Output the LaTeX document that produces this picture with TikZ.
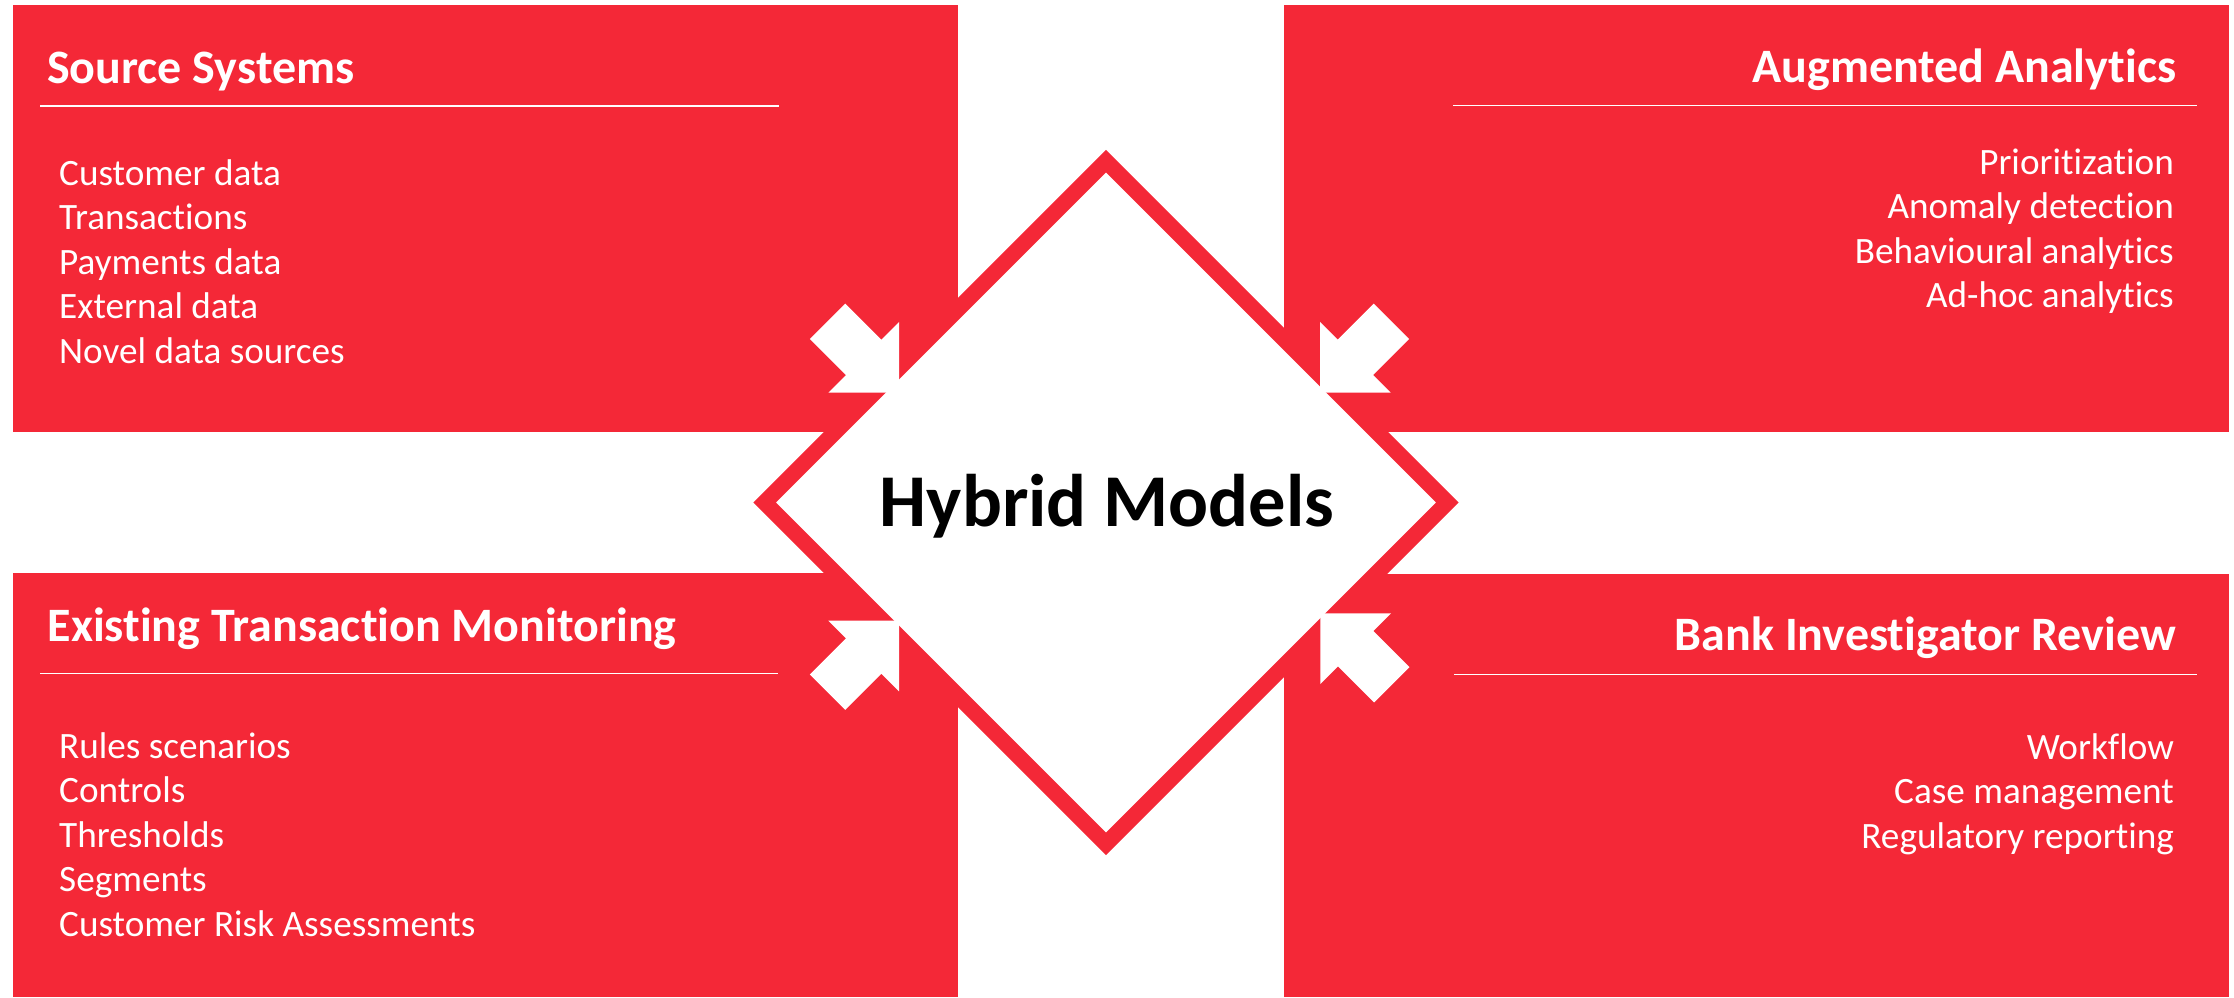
\documentclass[tikz,border=0pt]{standalone}
\usepackage{fontspec}
\setmainfont{Carlito}[Ligatures=NoCommon]
\usepackage{xcolor}
\usepackage{tikz}
\usetikzlibrary{positioning,shapes.geometric}

\definecolor{boxred}{RGB}{244,40,55}

\begin{document}
\begin{tikzpicture}
[x=1pt, y=-1pt,
    panel/.style={fill=boxred},
    rule/.style={draw=white, line width=1.2pt},
    title/.style={text=white, inner sep=0pt, font=\fontsize{48}{57}\selectfont\bfseries},
    item/.style={text=white, inner sep=0pt, font=\fontsize{37.2}{44}\selectfont},
    ring/.style={shape=diamond, aspect=1, draw=boxred, fill=white,
        line width=15.8pt, inner sep=0pt, minimum width=689.3pt, minimum height=689.3pt},
    hubtext/.style={inner sep=0pt, font=\fontsize{74.5}{89}\selectfont\bfseries},
    inarrow/.pic={
        \fill[white] (-101,-25) -- (-50,-25) -- (-50,-50) -- (0,0)
            -- (-50,50) -- (-50,25) -- (-101,25) -- cycle;
    }
    ]

    \useasboundingbox (0,0) rectangle (2234,997);

    % four panels
    \fill[panel] (13,5) rectangle (958,432);
    \fill[panel] (1284,5) rectangle (2229,432);
    \fill[panel] (13,573) rectangle (958,997);
    \fill[panel] (1284,574) rectangle (2229,997);

    % centre diamond
    \node[ring] (hub) at (1106,502.5) {};

    % arrows pointing in at the diamond
    \pic[rotate=-45] (inTL) at (899,392.7) {inarrow};
    \pic[rotate=-135] (inTR) at (1320,392.7) {inarrow};
    \pic[rotate=45] (inBL) at (899,620.7) {inarrow};
    \pic[rotate=135] (inBR) at (1320.4,613.3) {inarrow};

    \node[hubtext, anchor=base] (hubtitle) at (1107,526) {Hybrid Models};

    % Source Systems
    \node[title, anchor=base west] (src) at (47,83.5) {Source Systems};
    \draw[rule] (40,106) -- (779,106);
    \foreach \txt [count=\k from 0] in {Customer data, Transactions, Payments data,
        External data, Novel data sources}
        \node[item, anchor=base west] (src\k) at (59,{185+44.5*\k}) {\txt};

    % Augmented Analytics
    \node[title, anchor=base east] (ana) at (2176.5,82.7) {Augmented Analytics};
    \draw[rule] (1453,105.7) -- (2197,105.7);
    \foreach \txt [count=\k from 0] in {Prioritization, Anomaly detection,
        Behavioural analytics, Ad-hoc analytics}
        \node[item, anchor=base east] (ana\k) at (2174,{174+44.5*\k}) {\txt};

    % Existing Transaction Monitoring
    \node[title, anchor=base west] (mon) at (47.4,641) {Existing Transaction Monitoring};
    \draw[rule] (40,673.3) -- (778,673.3);
    \foreach \txt [count=\k from 0] in {Rules scenarios, Controls, Thresholds,
        Segments, Customer Risk Assessments}
        \node[item, anchor=base west] (mon\k) at (59,{758+44.5*\k}) {\txt};

    % Bank Investigator Review
    \node[title, anchor=base east] (rev) at (2176,650.7) {Bank Investigator Review};
    \draw[rule] (1454,674.3) -- (2197,674.3);
    \foreach \txt [count=\k from 0] in {Workflow, Case management, Regulatory reporting}
        \node[item, anchor=base east] (rev\k) at (2174,{759+44.5*\k}) {\txt};
\end{tikzpicture}
\end{document}
